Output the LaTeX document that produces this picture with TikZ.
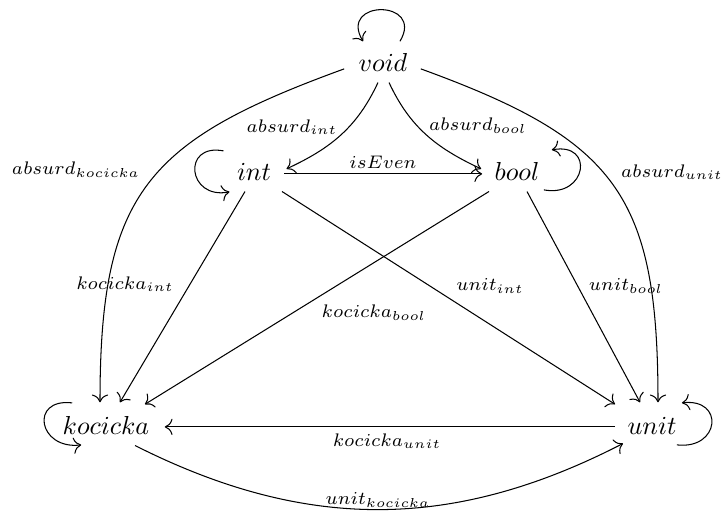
\documentclass[tikz,border=0pt]{standalone}
\usetikzlibrary{arrows.meta}
\tikzset{
  obj/.style={anchor=base, inner sep=0pt, text height=7pt, text depth=0pt},
  lbl/.style={inner sep=0pt},
  arr/.style={-{To[scale=1.2]}, line width=0.4pt},
}
\begin{document}
\begin{tikzpicture}[x=0.3846pt, y=0.3846pt]
\useasboundingbox (0,0) rectangle (724,514);
% objects
\node[obj] (void) at (383,442) {$void$};
\node[obj] (int) at (254,333) {$int$};
\node[obj] (bool) at (517,333) {$bool$};
\node[obj] (kocicka) at (106,79) {$kocicka$};
\node[obj] (unit) at (652,79) {$unit$};
% identity loops
\draw[arr] ([shift={(17,12)}]void.north) .. controls +(25,42) and +(-25,42) .. ([shift={(-20,12)}]void.north);
\draw[arr] ([shift={(-13,21)}]int.west) .. controls +(-42,8) and +(-42,-8) .. ([shift={(-7,-20)}]int.west);
\draw[arr] ([shift={(4,-18)}]bool.east) .. controls +(43,-8) and +(43,8) .. ([shift={(12,22)}]bool.east);
\draw[arr] ([shift={(10,23)}]kocicka.west) .. controls +(-43,5) and +(-43,-5) .. ([shift={(19,-19)}]kocicka.west);
\draw[arr] ([shift={(0,-19)}]unit.east) .. controls +(43,-5) and +(43,5) .. ([shift={(5,23)}]unit.east);
% from void
\draw[arr] ([shift={(-14,-6)}]void.west) to[out=200, in=90, looseness=1.3] ([shift={(-6,14)}]kocicka.north);
\draw[arr] ([shift={(13,-6)}]void.east) to[out=-20, in=90, looseness=1.3] ([shift={(6,14)}]unit.north);
\draw[arr] ([shift={(-5,-10)}]void.south) to[out=245, in=25] ([shift={(15,3)}]int.east);
\draw[arr] ([shift={(6,-10)}]void.south) to[out=295, in=155] ([shift={(-13,3)}]bool.west);
% middle
\draw[arr] ([shift={(13,-2)}]int.east) -- ([shift={(-12,-2)}]bool.west);
\draw[arr] ([shift={(-9,-10)}]int.south) -- ([shift={(14,14)}]kocicka.north);
\draw[arr] ([shift={(28,-10)}]int.south) -- ([shift={(-37,12)}]unit.north);
\draw[arr] ([shift={(-28,-10)}]bool.south) -- ([shift={(39,12)}]kocicka.north);
\draw[arr] ([shift={(10,-10)}]bool.south) -- ([shift={(-12,14)}]unit.north);
% bottom
\draw[arr] ([shift={(-12,-1)}]unit.west) -- ([shift={(15,-1)}]kocicka.east);
\draw[arr] ([shift={(29,-10)}]kocicka.south) to[bend right=27] ([shift={(-29,-8)}]unit.south);
% labels
\node[lbl] (labsint) at (292,387) {$\scriptstyle absurd_{int}$};
\node[lbl] (labsbool) at (478,388) {$\scriptstyle absurd_{bool}$};
\node[lbl] (labskoc) at (76,344) {$\scriptstyle absurd_{kocicka}$};
\node[lbl] (labsunit) at (672,342) {$\scriptstyle absurd_{unit}$};
\node[lbl] (liseven) at (383,352) {$\scriptstyle isEven$};
\node[lbl] (lkocint) at (125,230) {$\scriptstyle kocicka_{int}$};
\node[lbl] (lkocbool) at (374,201) {$\scriptstyle kocicka_{bool}$};
\node[lbl] (lunitint) at (490,228) {$\scriptstyle unit_{int}$};
\node[lbl] (lunitbool) at (626,228) {$\scriptstyle unit_{bool}$};
\node[lbl] (lkocunit) at (387,73) {$\scriptstyle kocicka_{unit}$};
\node[lbl] (lunitkoc) at (378,14) {$\scriptstyle unit_{kocicka}$};
\end{tikzpicture}
\end{document}
